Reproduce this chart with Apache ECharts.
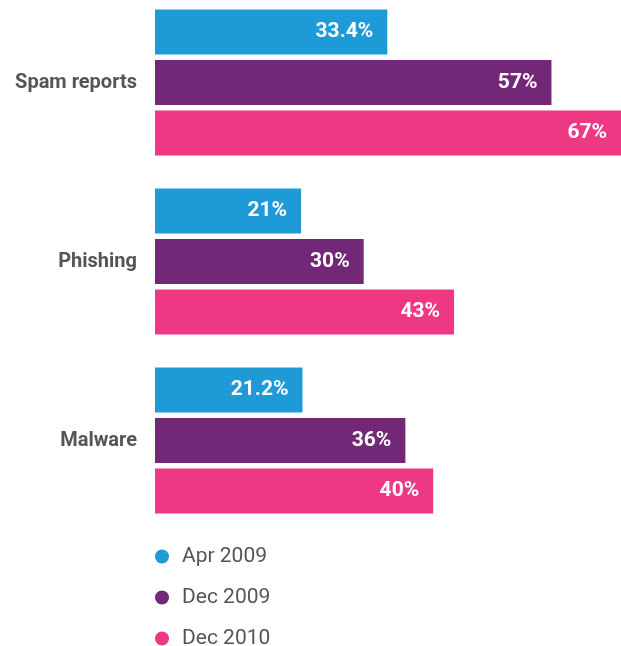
<!DOCTYPE html>
<html>
<head>
<meta charset="utf-8">
<script src="https://cdn.jsdelivr.net/npm/echarts@6/dist/echarts.min.js"></script>
<style>
html,body{margin:0;padding:0;background:#fff;overflow:hidden;}
#chart{position:absolute;left:0;top:-7px;width:621px;height:720px;}
</style>
</head>
<body>
<div id="chart"></div>
<script>
const categories = ['Spam reports', 'Phishing', 'Malware'];
const seriesNames = ['Apr 2009', 'Dec 2009', 'Dec 2010'];
const apr2009 = [33.4, 21, 21.2];
const dec2009 = [57, 30, 36];
const dec2010 = [67, 43, 40];
const colors = ['#1E9AD6', '#722877', '#EF3883'];
const FONT = 'Roboto, "Liberation Sans", sans-serif';

const seriesData = [apr2009, dec2009, dec2010];
const chart = echarts.init(document.getElementById('chart'));
chart.setOption({
  animation: false,
  backgroundColor: '#fff',
  grid: { left: 155, right: 0, top: 0, bottom: 183, containLabel: false },
  xAxis: { type: 'value', min: 0, max: 67, show: false },
  yAxis: {
    type: 'category', data: categories, inverse: true,
    axisLine: { show: false }, axisTick: { show: false },
    axisLabel: { color: '#555', fontSize: 20, fontWeight: 'bold', fontFamily: FONT, margin: 18 }
  },
  legend: {
    orient: 'vertical', left: 155, top: 553, itemGap: 20, padding: 0,
    icon: 'circle', itemWidth: 14, itemHeight: 14,
    textStyle: { color: '#555', fontSize: 21, lineHeight: 14, fontFamily: FONT, padding: [0, 0, 0, 8] },
    data: seriesNames
  },
  series: seriesData.map((d, i) => ({
    name: seriesNames[i], type: 'bar', data: d,
    barWidth: 45, barGap: '12%',
    itemStyle: { color: colors[i] },
    label: {
      show: true, position: 'insideRight', distance: 14,
      color: '#fff', fontSize: 21, fontWeight: 'bold', fontFamily: FONT,
      formatter: p => p.value + '%'
    }
  }))
});
</script>
</body>
</html>
